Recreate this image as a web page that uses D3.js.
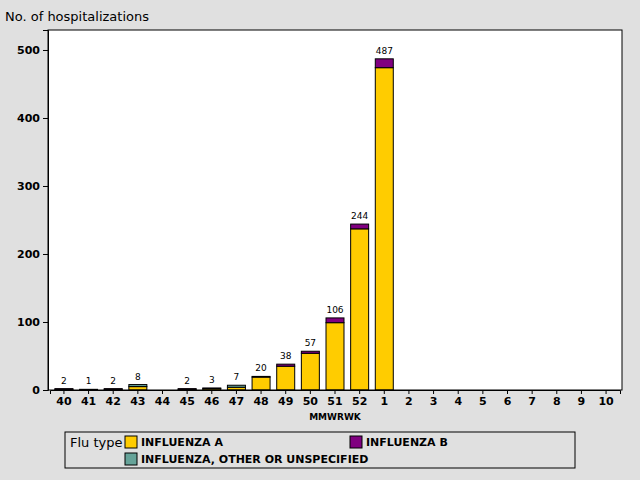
<!DOCTYPE html>
<html><head><meta charset="utf-8">
<script src="https://cdn.jsdelivr.net/npm/d3@7"></script>
<style>body{margin:0;background:#e0e0e0;font-family:"DejaVu Sans",sans-serif}</style>
</head><body><div id="chart"></div>
<script>
const weeks = ["40","41","42","43","44","45","46","47","48","49","50","51","52","1","2","3","4","5","6","7","8","9","10"];
const fluA = [1,1,1,5,0,1,2,4,19,35,54,99,237,474,0,0,0,0,0,0,0,0,0];
const fluB = [1,0,1,0,0,1,1,0,1,3,3,7,7,13,0,0,0,0,0,0,0,0,0];
const fluOther = [0,0,0,3,0,0,0,3,0,0,0,0,0,0,0,0,0,0,0,0,0,0,0];
const totals = [2,1,2,8,null,2,3,7,20,38,57,106,244,487,null,null,null,null,null,null,null,null,null];
const yTicks = [0,100,200,300,400,500];
const types = ["INFLUENZA A","INFLUENZA B","INFLUENZA, OTHER OR UNSPECIFIED"];
const colors = {"INFLUENZA A":"#ffcc00","INFLUENZA B":"#800080","INFLUENZA, OTHER OR UNSPECIFIED":"#66a399"};

const W=640,H=480,L=48,R=622,T=30,B=390;
const svg=d3.select("#chart").append("svg").attr("width",W).attr("height",H);
svg.append("rect").attr("width",W).attr("height",H).attr("fill","#e0e0e0");
svg.append("rect").attr("x",L).attr("y",T).attr("width",R-L).attr("height",B-T).attr("fill","#fff");

const x=d3.scaleBand().domain(weeks).range([L+2,R-2]).paddingInner(0.27).paddingOuter(0.2);
const y=d3.scaleLinear().domain([0,529.4]).range([B,T]);

const rows=weeks.map((w,i)=>({week:w,"INFLUENZA A":fluA[i],"INFLUENZA B":fluB[i],"INFLUENZA, OTHER OR UNSPECIFIED":fluOther[i]}));
const stack=d3.stack().keys(["INFLUENZA A","INFLUENZA, OTHER OR UNSPECIFIED","INFLUENZA B"])(rows);

svg.append("g").selectAll("g").data(stack).join("g")
  .attr("fill",d=>colors[d.key])
  .selectAll("rect").data(d=>d.filter(p=>p[1]>p[0])).join("rect")
  .attr("x",d=>x(d.data.week)).attr("width",x.bandwidth())
  .attr("y",d=>y(d[1])).attr("height",d=>y(d[0])-y(d[1]))
  .attr("stroke","#000").attr("stroke-width",1);

svg.append("g").selectAll("text").data(weeks.map((w,i)=>({w,t:totals[i]})).filter(d=>d.t!=null)).join("text")
  .attr("x",d=>x(d.w)+x.bandwidth()/2).attr("y",d=>y(d.t)-5)
  .attr("text-anchor","middle").attr("font-size",9).text(d=>d.t);

svg.append("rect").attr("x",L).attr("y",T).attr("width",R-L).attr("height",B-T).attr("fill","none").attr("stroke","#000");

const ya=svg.append("g").attr("transform",`translate(${L},0)`).call(d3.axisLeft(y).tickValues(yTicks).tickSize(5));
ya.selectAll("text").attr("font-size",11).attr("font-weight","bold").attr("font-family","DejaVu Sans");
const xa=svg.append("g").attr("transform",`translate(0,${B})`).call(d3.axisBottom(x).tickSize(4));
xa.selectAll("text").attr("font-size",11).attr("font-weight","bold").attr("font-family","DejaVu Sans");
svg.selectAll(".domain").attr("stroke","#000");

svg.append("text").attr("x",5).attr("y",21).attr("font-size",13).text("No. of hospitalizations");
svg.append("text").attr("x",(L+R)/2).attr("y",420).attr("text-anchor","middle").attr("font-size",9).attr("font-weight","bold").text("MMWRWK");

const lg=svg.append("g");
lg.append("rect").attr("x",65).attr("y",432).attr("width",510).attr("height",36).attr("fill","none").attr("stroke","#000");
lg.append("text").attr("x",70).attr("y",447).attr("font-size",13).text("Flu type");
const items=[{k:types[0],x:125,y:436},{k:types[1],x:350,y:436},{k:types[2],x:125,y:453}];
items.forEach(d=>{
  lg.append("rect").attr("x",d.x).attr("y",d.y).attr("width",12).attr("height",12).attr("fill",colors[d.k]).attr("stroke","#000");
  lg.append("text").attr("x",d.x+16).attr("y",d.y+10).attr("font-size",11).attr("font-weight","bold").text(d.k);
});
</script></body></html>
